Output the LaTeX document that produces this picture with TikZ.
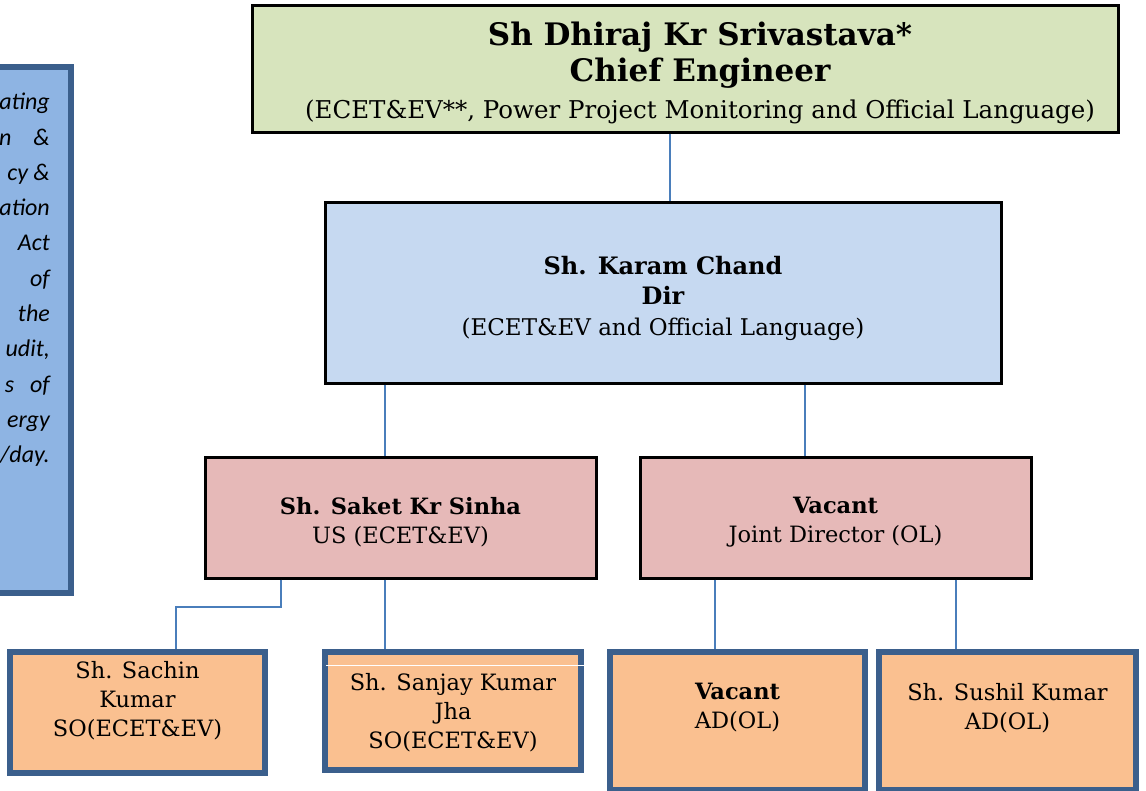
\documentclass[tikz,border=0pt]{standalone}
\usepackage{fontspec}
\setmainfont{DejaVu Serif}
\newfontfamily\sidefont{Carlito}
\definecolor{cgreen}{HTML}{D7E4BD}
\definecolor{cblue}{HTML}{C6D9F1}
\definecolor{cpink}{HTML}{E6B9B8}
\definecolor{corange}{HTML}{FAC090}
\definecolor{cside}{HTML}{8EB4E3}
\definecolor{cframe}{HTML}{3B5F8C}
\definecolor{cline}{HTML}{4A7EBB}
\begin{document}
\begin{tikzpicture}[x=1pt,y=-1pt,
  box/.style={draw=black,line width=3pt,inner sep=0pt},
  lowbox/.style={draw=cframe,line width=5.5pt,fill=corange,inner sep=0pt},
  conn/.style={draw=cline,line width=2.5pt},
  txt/.style={align=center,inner sep=0pt,font=\fontsize{22.5}{29}\selectfont}]
\useasboundingbox (0,0) rectangle (1146,790);
% side box (clipped)
\begin{scope}
\clip (0,0) rectangle (1146,790);
\node[draw=cframe,line width=5.5pt,fill=cside,minimum width=91pt,minimum height=526pt] (side) at (25.5,330) {};
\end{scope}
\node[anchor=north east,align=right,inner sep=0pt,font=\sidefont\itshape\fontsize{24}{35.3}\selectfont] (sidetxt) at (50,93)
{ating\\n\hspace{22pt}\&\\cy \&\\ation\\Act\\of\\the\\udit,\\s\hspace{16pt}of\\ergy\\/day.};
% top
\node[box,fill=cgreen,minimum width=866pt,minimum height=127pt] (top) at (685,68.5) {};
\node[txt,font=\fontsize{24.5}{36.5}\selectfont] (toptxt) at (700,72.5) {{\bfseries\fontsize{31}{36.5}\selectfont Sh Dhiraj Kr Srivastava*}\\{\bfseries\fontsize{31}{36.5}\selectfont Chief Engineer}\\(ECET\&EV**, Power Project Monitoring and Official Language)};
% dir
\node[box,fill=cblue,minimum width=676pt,minimum height=181pt] (dir) at (663,292.5) {};
\node[txt,font=\fontsize{23}{30.5}\selectfont] (dirtxt) at (663,298) {{\bfseries\fontsize{24}{30.5}\selectfont Sh. Karam Chand}\\{\bfseries\fontsize{24}{30.5}\selectfont Dir}\\(ECET\&EV and Official Language)};
% mid
\node[box,fill=cpink,minimum width=391pt,minimum height=121pt] (us) at (400.5,517.5) {};
\node[txt] (ustxt) at (400.5,522) {\bfseries Sh. Saket Kr Sinha\\US (ECET\&EV)};
\node[box,fill=cpink,minimum width=391pt,minimum height=121pt] (jd) at (835.5,517.5) {};
\node[txt] (jdtxt) at (835.5,522) {\bfseries Vacant\\Joint Director (OL)};
% bottom
\node[lowbox,minimum width=255pt,minimum height=121pt] (sachin) at (137.5,712.5) {};
\node[txt] (sachintxt) at (137.5,701) {Sh. Sachin\\Kumar\\SO(ECET\&EV)};
\node[lowbox,minimum width=256pt,minimum height=118pt] (sanjay) at (453,711) {};
\draw[white,line width=0.8pt] (sanjay.north west) ++(4,16) coordinate (wl) -- (wl -| sanjay.east) ++(-4,0);
\node[txt] (sanjaytxt) at (453,713) {Sh. Sanjay Kumar\\Jha\\SO(ECET\&EV)};
\node[lowbox,minimum width=255pt,minimum height=138pt] (vad) at (737.5,721) {};
\node[txt] (vadtxt) at (737.5,708) {\bfseries Vacant\\AD(OL)};
\node[lowbox,minimum width=257pt,minimum height=138pt] (sushil) at (1007.5,721) {};
\node[txt] (sushiltxt) at (1007.5,708) {Sh. Sushil Kumar\\AD(OL)};
% connectors
\coordinate (x1) at (670,0);
\coordinate (x2) at (385,0);
\coordinate (x3) at (805,0);
\coordinate (x4) at (281,0);
\coordinate (x5) at (176,0);
\coordinate (x6) at (715,0);
\coordinate (x7) at (956,0);
\coordinate (bend1) at (281,607);
\coordinate (bend2) at (176,607);
\draw[conn] (top.south -| x1) -- (dir.north -| x1);
\draw[conn] (dir.south -| x2) -- (us.north -| x2);
\draw[conn] (dir.south -| x3) -- (jd.north -| x3);
\draw[conn] (us.south -| x4) -- (bend1) -- (bend2) -- (sachin.north -| x5);
\draw[conn] (us.south -| x2) -- (sanjay.north -| x2);
\draw[conn] (jd.south -| x6) -- (vad.north -| x6);
\draw[conn] (jd.south -| x7) -- (sushil.north -| x7);
\end{tikzpicture}
\end{document}
